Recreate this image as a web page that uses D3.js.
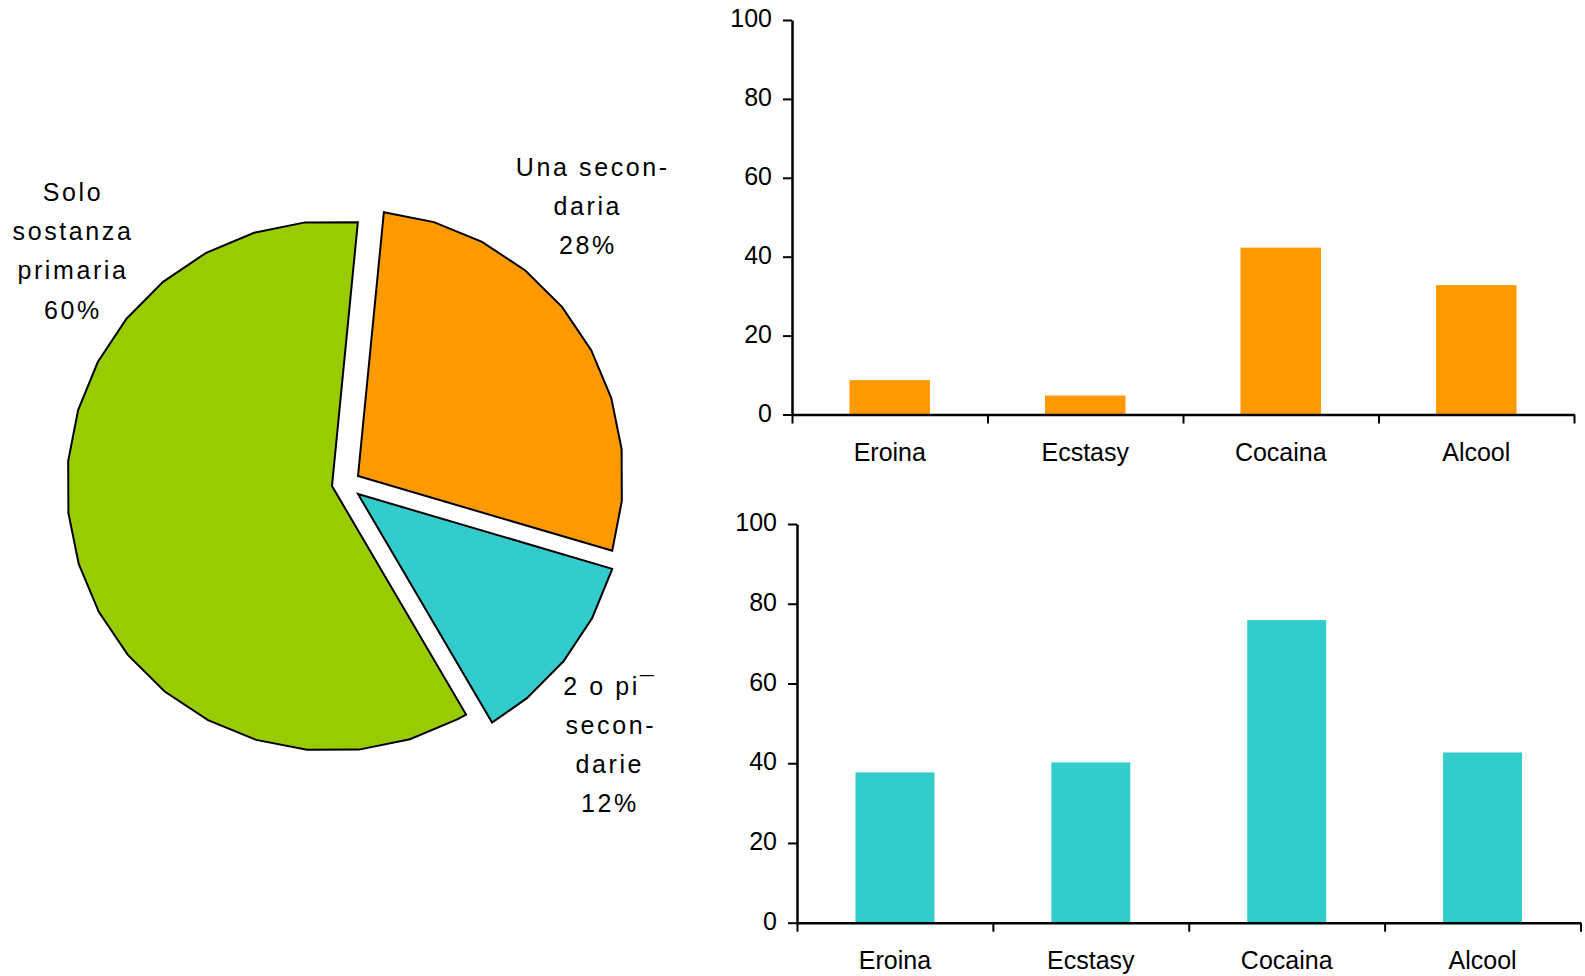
<!DOCTYPE html>
<html>
<head>
<meta charset="utf-8">
<script src="https://cdn.jsdelivr.net/npm/d3@7"></script>
<style>
  html, body { margin: 0; padding: 0; background: #ffffff; }
  svg { display: block; font-family: "Liberation Sans", Arial, sans-serif; }
</style>
</head>
<body>
<svg id="chart" width="1585" height="976"></svg>
<script>
// ---------- data ----------
const categories = ["Eroina", "Ecstasy", "Cocaina", "Alcool"];
const valuesTop = [8.7, 4.8, 42.3, 32.8];
const valuesBottom = [37.7, 40.2, 75.9, 42.7];
const yTickValues = [0, 20, 40, 60, 80, 100];

const pieCategories = ["Solo sostanza primaria", "Una secondaria", "2 o pi\u00AF secondarie"];
const pieValues = [60, 28, 12];
const pieLabelLines = [
  ["Solo", "sostanza", "primaria", "60%"],
  ["Una secon-", "daria", "28%"],
  ["2 o pi\u00AF", "secon-", "darie", "12%"]
];

// ---------- styles / layout ----------
const pieColors = ["#99CC00", "#FF9900", "#33CCCC"];
const barColors = ["#FF9900", "#33CCCC"];
const svg = d3.select("#chart");
const deg = Math.PI / 180;

// ---------- pie ----------
const pieCx = 332, pieCy = 486, R = 265;
const explode = [[0, 0], [26, -10], [26, 8]];
const gridStart = 5.4 * deg, gridStep = 2 * Math.PI / 32;
const pieStart = 149.6 * deg;

const pie = d3.pie().sort(null).value(d => d)
  .startAngle(pieStart).endAngle(pieStart + 2 * Math.PI);
const arcs = pie(pieValues);

const radial = d3.lineRadial()
  .angle(p => p[0]).radius(p => p[1])
  .curve(d3.curveLinearClosed);

function slicePoints(d) {
  const pts = [[0, 0], [d.startAngle, R]];
  let k = Math.floor((d.startAngle - gridStart) / gridStep) + 1;
  for (; gridStart + k * gridStep < d.endAngle - 1e-6; k++) {
    pts.push([gridStart + k * gridStep, R]);
  }
  pts.push([d.endAngle, R]);
  return pts;
}

const pieG = svg.append("g").attr("transform", `translate(${pieCx},${pieCy})`);
pieG.selectAll("path.slice")
  .data(arcs)
  .join("path")
  .attr("class", "slice")
  .attr("transform", (d, i) => `translate(${explode[i][0]},${explode[i][1]})`)
  .attr("d", d => radial(slicePoints(d)))
  .attr("fill", (d, i) => pieColors[i])
  .attr("stroke", "#000")
  .attr("stroke-width", 2)
  .attr("stroke-linejoin", "miter");

// pie labels
const labelFont = 25, labelLs = 2.6, lineGap = 39.2;
const labelAnchors = [[71.7, 201], [586.5, 176], [608.5, 694.5]];
const lineShift = [[0, 0, 0, 0], [5, 0, 0], [0, 1, 0, 0]];
pieLabelLines.forEach((lines, i) => {
  const g = svg.append("g").attr("class", "pie-label");
  g.selectAll("text")
    .data(lines)
    .join("text")
    .attr("x", (d, j) => labelAnchors[i][0] + labelLs / 2 + lineShift[i][j])
    .attr("y", (d, j) => labelAnchors[i][1] + j * lineGap)
    .attr("text-anchor", "middle")
    .attr("font-size", labelFont)
    .attr("letter-spacing", labelLs)
    .attr("fill", "#000")
    .text(d => d);
});

// ---------- bar charts ----------
function barChart(values, color, x0, x1, yTop, yBase, padInner) {
  const g = svg.append("g");
  const x = d3.scaleBand().domain(categories).range([x0, x1])
    .paddingInner(padInner).paddingOuter(padInner / 2);
  const y = d3.scaleLinear().domain([0, 100]).range([yBase, yTop]);
  const xb = d3.scaleLinear().domain([0, categories.length]).range([x0, x1]);

  g.selectAll("rect")
    .data(values)
    .join("rect")
    .attr("x", (d, i) => x(categories[i]))
    .attr("width", x.bandwidth())
    .attr("y", d => y(d))
    .attr("height", d => y(0) - y(d))
    .attr("fill", color);

  // y axis
  const ya = g.append("g").attr("transform", `translate(${x0},0)`)
    .call(d3.axisLeft(y).tickValues(yTickValues).tickSize(9).tickSizeOuter(0).tickPadding(11));
  ya.selectAll("text").attr("font-size", 25).attr("font-family", "Liberation Sans, Arial, sans-serif")
    .attr("dy", "0.27em").attr("fill", "#000");

  // x axis boundary ticks
  g.append("g").attr("transform", `translate(0,${yBase})`)
    .call(d3.axisBottom(xb).tickValues(d3.range(categories.length + 1)).tickSize(9).tickSizeOuter(0).tickFormat(""));
  // x axis labels
  const xl = g.append("g").attr("transform", `translate(0,${yBase})`)
    .call(d3.axisBottom(x).tickSize(0).tickPadding(28.5));
  xl.select(".domain").remove();
  xl.selectAll("text").attr("font-size", 25).attr("font-family", "Liberation Sans, Arial, sans-serif")
    .attr("fill", "#000");

  g.selectAll(".domain").attr("stroke", "#000").attr("stroke-width", 2.5);
  g.selectAll(".tick line").attr("stroke", "#000").attr("stroke-width", 2);
}

barChart(valuesTop, barColors[0], 792, 1574, 20, 414.5, 0.588);
barChart(valuesBottom, barColors[1], 797, 1580.5, 524, 922.7, 0.597);
</script>
</body>
</html>
